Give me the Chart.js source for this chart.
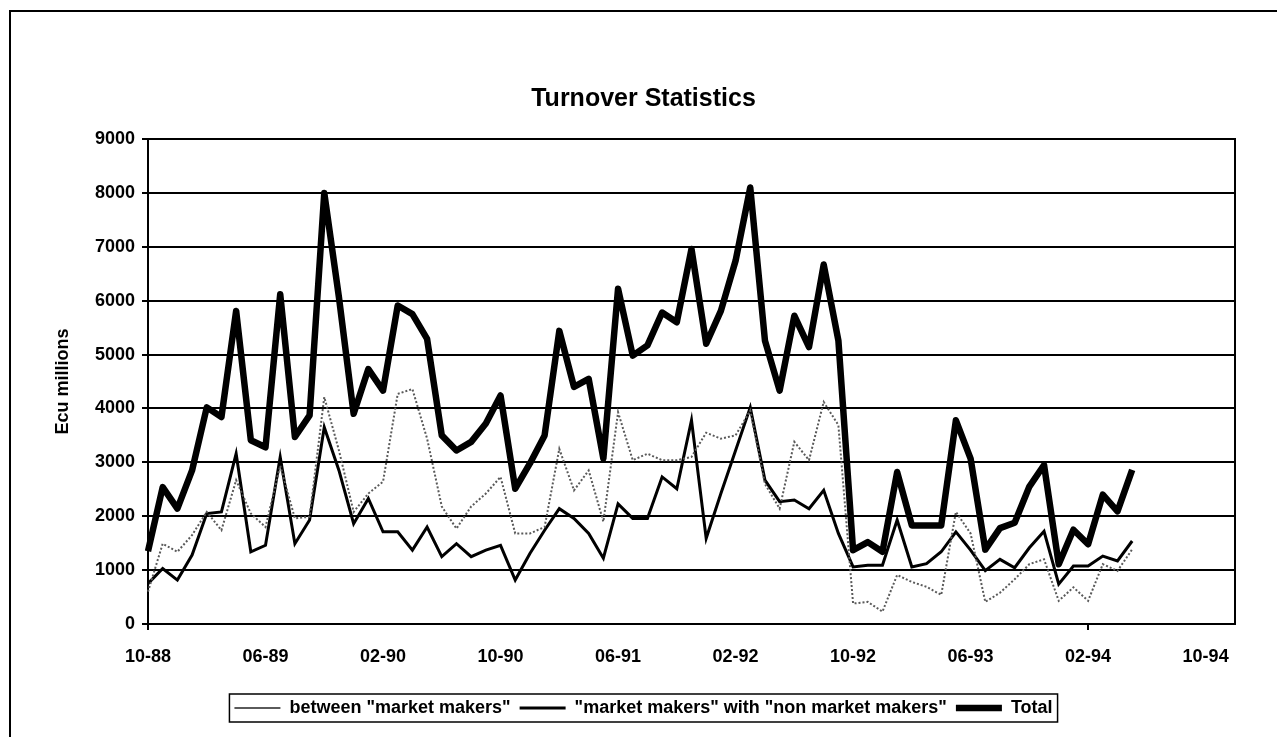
<!DOCTYPE html>
<html>
<head>
<meta charset="utf-8">
<title>Turnover Statistics</title>
<script src="https://cdn.jsdelivr.net/npm/chart.js@4.4.0/dist/chart.umd.min.js"></script>
<style>
  html, body { margin: 0; padding: 0; background: #fff; }
  #wrap { width: 1277px; height: 737px; }
</style>
</head>
<body>
<div id="wrap"><canvas id="turnoverChart" width="1277" height="737"></canvas></div>
<script>
// months on the category axis, 10-88 .. 12-94
const months = [
  "10-88","11-88","12-88",
  "01-89","02-89","03-89","04-89","05-89","06-89","07-89","08-89","09-89","10-89","11-89","12-89",
  "01-90","02-90","03-90","04-90","05-90","06-90","07-90","08-90","09-90","10-90","11-90","12-90",
  "01-91","02-91","03-91","04-91","05-91","06-91","07-91","08-91","09-91","10-91","11-91","12-91",
  "01-92","02-92","03-92","04-92","05-92","06-92","07-92","08-92","09-92","10-92","11-92","12-92",
  "01-93","02-93","03-93","04-93","05-93","06-93","07-93","08-93","09-93","10-93","11-93","12-93",
  "01-94","02-94","03-94","04-94","05-94","06-94","07-94","08-94","09-94","10-94","11-94","12-94"
];
const labelEvery = 8;

// Ecu millions, monthly from 10-88
const betweenMM = [
  600, 1490, 1340, 1650, 2080, 1740, 2670, 2050, 1800, 2940,
  1960, 1990, 4210, 3220, 2080, 2420, 2640, 4270, 4360, 3440,
  2180, 1770, 2180, 2420, 2730, 1680, 1680, 1800, 3250, 2480,
  2850, 1900, 3930, 3040, 3160, 3040, 3040, 3100, 3550, 3440,
  3500, 3960, 2600, 2140, 3380, 3040, 4120, 3690, 380, 410,
  230, 910, 780, 690, 540, 2080, 1680, 410, 580, 830,
  1110, 1200, 430, 680, 430, 1110, 985, 1385
];
const mmWithNonMM = [
  750, 1030, 815, 1280, 2050, 2080, 3160, 1340, 1460, 3100,
  1490, 1930, 3650, 2850, 1860, 2330, 1710, 1710, 1370, 1800,
  1250, 1490, 1250, 1370, 1460, 815, 1310, 1740, 2140, 1960,
  1680, 1220, 2230, 1960, 1960, 2730, 2510, 3780, 1590, 2420,
  3220, 4020, 2670, 2270, 2300, 2140, 2480, 1680, 1060, 1090,
  1090, 1930, 1060, 1120, 1340, 1710, 1370, 990, 1200, 1045,
  1415, 1720, 740, 1075, 1075, 1260, 1170, 1540
];
const total = [
  1350, 2540, 2140, 2850, 4020, 3840, 5810, 3410, 3280, 6120,
  3470, 3870, 8000, 6060, 3900, 4730, 4330, 5910, 5750, 5290,
  3500, 3220, 3380, 3720, 4240, 2510, 2980, 3500, 5440, 4400,
  4550, 3070, 6220, 4980, 5170, 5780, 5600, 6960, 5200, 5810,
  6740, 8100, 5260, 4330, 5720, 5140, 6670, 5260, 1370, 1520,
  1340, 2820, 1830, 1830, 1830, 3780, 3070, 1380, 1780, 1880,
  2550, 2950, 1110, 1750, 1480, 2400, 2090, 2860
];

Chart.defaults.font.family = "'Liberation Sans', Arial, sans-serif";
Chart.defaults.color = "#000";

const boldFont = { size: 18, weight: "bold" };

// outer frame, plot frame and legend box
const framePlugin = {
  id: "frame",
  beforeDraw(chart) {
    const ctx = chart.ctx;
    ctx.save();
    ctx.fillStyle = "#fff";
    ctx.fillRect(0, 0, chart.width, chart.height);
    ctx.strokeStyle = "#000";
    ctx.lineWidth = 2;
    ctx.beginPath();
    ctx.moveTo(10, chart.height);
    ctx.lineTo(10, 11);
    ctx.lineTo(chart.width, 11);
    ctx.stroke();
    ctx.restore();
  },
  beforeDatasetsDraw(chart) {
    const a = chart.chartArea;
    const ctx = chart.ctx;
    ctx.save();
    ctx.strokeStyle = "#000";
    ctx.lineWidth = 2;
    ctx.strokeRect(a.left, a.top, a.right - a.left, a.bottom - a.top);
    ctx.restore();
  },
  afterDraw(chart) {
    const boxes = chart.legend && chart.legend.legendHitBoxes;
    if (!boxes || !boxes.length) return;
    let l = Infinity, r = -Infinity, t = Infinity, b = -Infinity;
    boxes.forEach(h => {
      l = Math.min(l, h.left);
      r = Math.max(r, h.left + h.width);
      t = Math.min(t, h.top);
      b = Math.max(b, h.top + h.height);
    });
    const ctx = chart.ctx;
    ctx.save();
    ctx.strokeStyle = "#000";
    ctx.lineWidth = 1.5;
    ctx.strokeRect(l - 5, t - 5, r - l + 10, b - t + 10);
    ctx.restore();
  }
};

new Chart(document.getElementById("turnoverChart"), {
  type: "line",
  data: {
    labels: months,
    datasets: [
      {
        label: "between \"market makers\"",
        data: betweenMM,
        borderColor: "#5a5a5a",
        backgroundColor: "#5a5a5a",
        borderWidth: 2,
        borderDash: [2, 2],
        pointRadius: 0,
        tension: 0
      },
      {
        label: "\"market makers\" with \"non market makers\"",
        data: mmWithNonMM,
        borderColor: "#000",
        backgroundColor: "#000",
        borderWidth: 3,
        pointRadius: 0,
        tension: 0
      },
      {
        label: "Total",
        data: total,
        borderColor: "#000",
        backgroundColor: "#000",
        borderWidth: 6.5,
        borderJoinStyle: "round",
        pointRadius: 0,
        tension: 0
      }
    ]
  },
  options: {
    responsive: false,
    animation: false,
    events: [],
    layout: { padding: { left: 10, right: 0, top: 0, bottom: 10 } },
    scales: {
      x: {
        offset: false,
        ticks: {
          autoSkip: false,
          maxRotation: 0,
          font: boldFont,
          padding: 16,
          callback: (value, index) => index % labelEvery === 0 ? months[index] : null
        },
        grid: {
          drawOnChartArea: false,
          drawTicks: true,
          tickLength: 6,
          lineWidth: 2,
          color: ctx => ctx.index % labelEvery === 0 ? "#000" : "rgba(0,0,0,0)"
        },
        border: { display: true, color: "#000", width: 2 },
        afterFit(scale) { scale.height = 66; }
      },
      y: {
        min: 0,
        max: 9000,
        ticks: {
          stepSize: 1000,
          font: boldFont,
          padding: 7,
          callback: value => String(value)
        },
        grid: { color: "#000", lineWidth: 2, tickLength: 6 },
        border: { display: true, color: "#000", width: 2 },
        title: {
          display: true,
          text: "Ecu millions",
          font: boldFont,
          padding: { top: 42, bottom: 0 }
        },
        afterFit(scale) { scale.width = 138; }
      },
      yR: {
        type: "linear",
        axis: "y",
        position: "right",
        display: true,
        ticks: { display: false },
        grid: { display: false },
        border: { display: false },
        afterFit(scale) { scale.width = 42; }
      }
    },
    plugins: {
      title: {
        display: true,
        text: "Turnover Statistics",
        font: { size: 25, weight: "bold" },
        padding: { top: 84, bottom: 25 }
      },
      legend: {
        position: "bottom",
        labels: {
          usePointStyle: true,
          pointStyle: "line",
          pointStyleWidth: 46,
          boxWidth: 46,
          font: boldFont,
          padding: 9
        }
      },
      tooltip: { enabled: false }
    }
  },
  plugins: [framePlugin]
});
</script>
</body>
</html>
